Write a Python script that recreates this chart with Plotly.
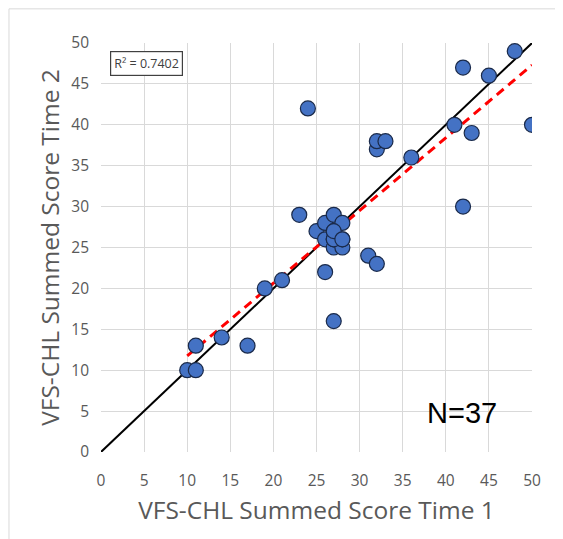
import plotly.graph_objects as go

# Data
time1 = [10, 11, 11, 14, 17, 19, 21, 23, 24, 25, 26, 26, 26, 27, 27, 27, 27, 27, 28, 28, 28,
         31, 32, 32, 32, 33, 36, 41, 42, 42, 43, 45, 48, 50, 27, 27, 28]
time2 = [10, 10, 13, 14, 13, 20, 21, 29, 42, 27, 22, 26, 28, 16, 25, 26, 27, 29, 25, 26, 28,
         24, 23, 37, 38, 38, 36, 40, 30, 47, 39, 46, 49, 40, 26, 27, 26]
identity_x = [0, 50]
trend_x = [10, 50]
trend_slope = 0.889
trend_intercept = 2.85
r2_text = "R² = 0.7402"
n_text = "N=37"
ticks = [0, 5, 10, 15, 20, 25, 30, 35, 40, 45, 50]

trend_y = [trend_slope * x + trend_intercept for x in trend_x]

fig = go.Figure()
fig.add_trace(go.Scatter(x=identity_x, y=identity_x, mode="lines",
                         line=dict(color="black", width=2), hoverinfo="skip"))
fig.add_trace(go.Scatter(x=trend_x, y=trend_y, mode="lines",
                         line=dict(color="#ff0000", width=3, dash="9px,6px"), hoverinfo="skip"))
fig.add_trace(go.Scatter(x=time1, y=time2, mode="markers",
                         marker=dict(size=15, color="#4472C4",
                                     line=dict(color="#1a2a4a", width=1.2))))

tick_font = dict(family="Open Sans, sans-serif", size=15.5, color="#595959")
title_font = dict(family="Open Sans, sans-serif", size=24.5, color="#595959")
axis_common = dict(range=[0, 50], tickvals=ticks, showgrid=True, gridcolor="#d9d9d9",
                   gridwidth=1, zeroline=False, showline=False, ticks="",
                   tickfont=tick_font, fixedrange=True, automargin=False)

fig.update_layout(
    width=555, height=531,
    margin=dict(l=93, r=31, t=35, b=87),
    paper_bgcolor="white", plot_bgcolor="white",
    showlegend=False,
    xaxis=dict(**axis_common, ticklabelstandoff=17,
               title=dict(text="VFS-CHL Summed Score Time 1", standoff=12, font=title_font)),
    yaxis=dict(**axis_common, ticklabelstandoff=11,
               title=dict(text="VFS-CHL Summed Score Time 2", standoff=4, font=title_font)),
    shapes=[dict(type="rect", xref="paper", yref="paper", x0=-0.2135, y0=-0.3, x1=1.3, y1=1.0835,
                 line=dict(color="#d9d9d9", width=1), fillcolor="rgba(0,0,0,0)", layer="below")],
    annotations=[
        dict(text=r2_text, xref="paper", yref="paper", x=0.021, y=0.95, xanchor="left",
             yanchor="middle", showarrow=False,
             font=dict(family="Open Sans, sans-serif", size=12.5, color="#404040"),
             bordercolor="#404040", borderwidth=1.2, borderpad=3, bgcolor="white"),
        dict(text=n_text, xref="paper", yref="paper", x=0.8376, y=0.095, xanchor="center",
             yanchor="middle", showarrow=False,
             font=dict(family="Liberation Sans, Arial, sans-serif", size=29, color="black")),
    ],
)

fig.write_html("out.html")
